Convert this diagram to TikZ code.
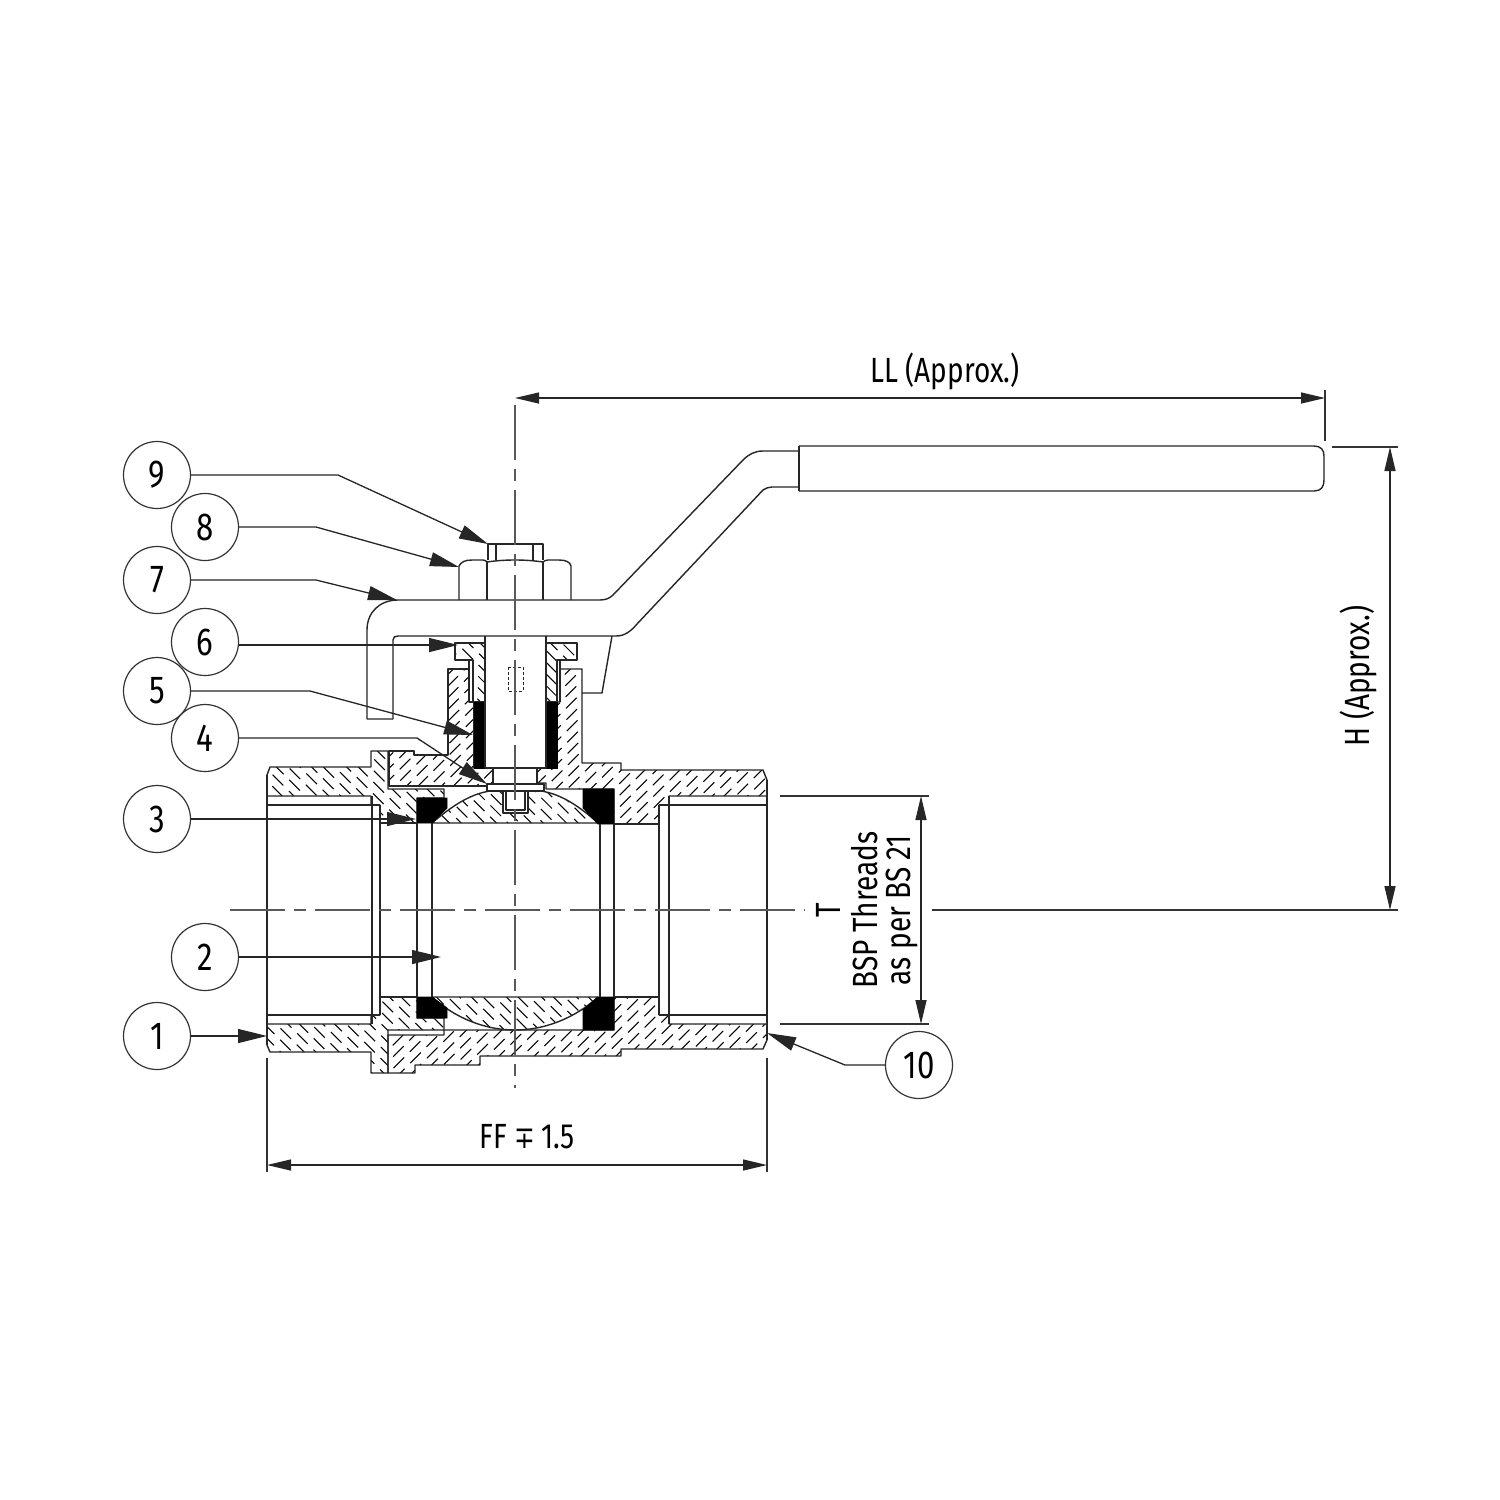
\documentclass[tikz,border=0pt]{standalone}
\usepackage{fontspec}
\setmainfont[FakeStretch=0.8]{Fira Sans}
\newfontfamily\symf[FakeStretch=0.8]{DejaVu Sans}
\usetikzlibrary{arrows.meta}
\tikzset{
  outl/.style={line width=1.4pt,line join=round,draw=black!85},
  thin line/.style={line width=1.3pt,draw=black!80},
  centre line/.style={line width=1.8pt,draw=black!65,dash pattern=on 55pt off 9pt on 12pt off 9pt},
  seat/.style={fill=black,draw=black,line width=.8pt},
  callout/.style={circle,draw=black!80,line width=1.2pt,minimum size=67pt,inner sep=0pt,fill=white,font=\fontsize{39}{42}\selectfont},
  leader/.style={line width=1.3pt,draw=black!85,-{Triangle[length=29pt,width=14pt]}},
  dimline/.style={line width=1.3pt,draw=black!85,{Triangle[length=24pt,width=11pt]}-{Triangle[length=24pt,width=11pt]}},
  dimtext/.style={font=\fontsize{35}{38}\selectfont,inner sep=0pt},
  hatchline/.style={line width=1.05pt,draw=black,dash pattern=on 15pt off 8pt}
}
\newcommand{\hatchfwd}[1]{%
  \begin{scope}
    \clip #1;
    \foreach \c in {900,911.7,...,2000}{
      \draw[hatchline,dash phase={mod(\c*0.6,23)}] (\c-100,100) -- (\c-1200,1200);
    }
  \end{scope}
  \draw[outl] #1;}
\newcommand{\hatchbck}[1]{%
  \begin{scope}
    \clip #1;
    \foreach \c in {-900,-888.3,...,200}{
      \draw[hatchline,dash phase={mod(abs(\c)*0.6,23)}] (\c+500,500) -- (\c+1200,1200);
    }
  \end{scope}
  \draw[outl] #1;}
\begin{document}
\begin{tikzpicture}[x=1pt,y=-1pt]
\useasboundingbox (0,0) rectangle (1500,1500);
\fill[white] (0,0) rectangle (1500,1500);

% --- left end piece (hatched "\")
\hatchbck{(270,767) -- (371,767) -- (371,751) -- (388,751) -- (388,789) -- (444,789) -- (444,798) -- (417,798) -- (417,823) -- (380,823) -- (380,805) -- (371,805) -- (371,796) -- (267,796) -- (267,775) -- cycle}
\hatchbck{(380,997) -- (417,997) -- (417,1018) -- (444,1018) -- (444,1030) -- (388,1030) -- (388,1073) -- (371,1073) -- (371,1052) -- (270,1052) -- (267,1045) -- (267,1024) -- (371,1024) -- (371,1015) -- (380,1015) -- cycle}

% --- main body (hatched "/")
\hatchfwd{(389,751) -- (414,751) -- (414,755) -- (448,755) -- (448,669) -- (469,669) -- (469,702) -- (474,702) -- (474,768) -- (493,768) -- (493,784) -- (487,784) -- (487,786) -- (389,786) -- cycle}
\hatchfwd{(557,702) -- (560,702) -- (560,669) -- (582,669) -- (582,763) -- (621,763) -- (621,770) -- (763,770) -- (767,780) -- (767,796) -- (669,796) -- (669,805) -- (659,805) -- (659,824) -- (614,824) -- (614,789) -- (546,789) -- (546,783) -- (537,783) -- (537,768) -- (557,768) -- cycle}
\hatchfwd{(388,1035) -- (444,1035) -- (444,1030) -- (614,1030) -- (614,997) -- (659,997) -- (659,1015) -- (669,1015) -- (669,1024) -- (767,1024) -- (767,1040) -- (763,1049) -- (621,1049) -- (621,1056) -- (480,1056) -- (480,1065) -- (415,1065) -- (415,1073) -- (388,1073) -- cycle}

% --- ball (hatched "\")
\hatchbck{(432,823) .. controls (452,806) and (470,794) .. (490,791) -- (541,791) .. controls (561,794) and (579,806) .. (598,823) -- cycle}
\hatchbck{(432,997) .. controls (455,1018) and (485,1030) .. (515,1030) .. controls (545,1030) and (575,1018) .. (598,997) -- cycle}
\draw[outl,fill=white] (503,791) -- (503,813) -- (528,813) -- (528,791);
\draw[outl] (506,791) -- (506,810) -- (525,810) -- (525,791);

% --- gland (hatched "\")
\hatchbck{(455,643) -- (485,643) -- (485,702) -- (473,702) -- (473,660) -- (455,660) -- cycle}
\hatchbck{(546,643) -- (577,643) -- (577,660) -- (557,660) -- (557,702) -- (546,702) -- cycle}
\draw[outl] (469,660) -- (469,702) (473,669) -- (473,702) (560,660) -- (560,702);

% --- packing and seats (black)
\fill[seat] (474,702) rectangle (485,768);
\fill[seat] (546,702) rectangle (557,768);
\fill[seat] (417,798) -- (447,798) -- (447,808) -- (432,823) -- (417,823) -- cycle;
\fill[seat] (417,997) -- (432,997) -- (447,1008) -- (447,1018) -- (417,1018) -- cycle;
\fill[seat] (583,789) -- (614,789) -- (614,824) -- (598,824) -- (583,808) -- cycle;
\fill[seat] (598,997) -- (614,997) -- (614,1030) -- (583,1030) -- (583,1010) -- cycle;

% --- bores and threads
\draw[outl] (267,775) -- (267,1045);
\draw[outl] (767,780) -- (767,1040);
\draw[outl] (267,805) -- (380,805) (267,1015) -- (380,1015);
\draw[outl] (372,796) -- (372,1024) (380,805) -- (380,1015);
\draw[outl] (669,796) -- (669,1024) (659,805) -- (659,1015);
\draw[outl] (767,805) -- (659,805) (767,1015) -- (659,1015);
\draw[outl] (417,823) -- (417,997) (432,823) -- (432,997);
\draw[outl] (600,824) -- (600,997) (614,824) -- (614,997);
\draw[outl] (380,823) -- (417,823) (380,997) -- (417,997);
\draw[outl] (614,824) -- (659,824) (614,997) -- (659,997);

% --- stem
\draw[outl,fill=white] (485,636) -- (485,768) -- (546,768) -- (546,636);
\draw[outl,fill=white] (493,768) rectangle (537,784);
\draw[outl,fill=white] (487,784) rectangle (544,791);
\draw[outl,densely dashed,line width=1pt] (508,667) rectangle (523,691);

% --- nut
\draw[outl,fill=white] (488,560) -- (488,544) -- (543,544) -- (543,560);
\draw[outl] (496,544) -- (496,560) (533,544) -- (533,560);
\draw[outl,fill=white] (459,600) -- (459,566) .. controls (461,562) and (465,560) .. (472,560) -- (483,560) .. controls (485,560) and (486,561) .. (487,562) .. controls (497,560.5) and (506,560) .. (515,560) .. controls (524,560) and (533,560.5) .. (543,562) .. controls (544,561) and (546,560) .. (548,560) -- (559,560) .. controls (566,560) and (570,562) .. (571,566) -- (571,600);
\draw[outl] (487,562) -- (487,600) (543,562) -- (543,600);

% --- lever
\draw[outl] (398,600) -- (600,600) .. controls (606,600) and (610,598) .. (613,595) -- (743,460) .. controls (749,454) and (755,451) .. (763,451) -- (799,451);
\draw[outl] (398,600) .. controls (380,600) and (367,612) .. (367,630) -- (367,719) -- (393,719) -- (393,640) .. controls (393,637) and (395,636) .. (398,636) -- (612,636) -- (616,636) .. controls (625,636) and (631,631) .. (637,624) -- (763,490) .. controls (766,488) and (769,487) .. (772,487) -- (799,487);
\draw[outl] (612,636) -- (602,693) -- (582,693);
\draw[outl] (799,446) -- (799,491);
\draw[outl] (799,446) -- (1314,446) .. controls (1321,446) and (1324,450) .. (1324,456) -- (1324,480) .. controls (1324,487) and (1321,491) .. (1314,491) -- (799,491);

% --- centre lines
\coordinate (vtop) at (515,405);
\coordinate (vbot) at (515,1088);
\coordinate (hleft) at (230,910);
\coordinate (hright) at (805,910);
\draw[centre line] (vtop) -- (vbot);
\draw[centre line] (hleft) -- (hright);

% --- callouts
\node[callout] (n9) at (157,475) {9};
\node[callout] (n8) at (205,527) {8};
\node[callout] (n7) at (157,580) {7};
\node[callout] (n6) at (205,642) {6};
\node[callout] (n5) at (157,691) {5};
\node[callout] (n4) at (205,738) {4};
\node[callout] (n3) at (157,819) {3};
\node[callout] (n2) at (205,957) {2};
\node[callout] (n1) at (157,1036) {1};
\node[callout] (n10) at (919,1065) {10};
\coordinate (t9) at (488,544);
\coordinate (t8) at (459,567);
\coordinate (t7) at (397,600);
\coordinate (t6) at (458,645);
\coordinate (t5) at (473,735);
\coordinate (t4) at (487,784);
\coordinate (t3) at (416,819);
\coordinate (t2) at (441,957);
\coordinate (t1) at (267,1036);
\coordinate (t10) at (767,1033);
\draw[leader] (n9.east) -- (338,475) -- (t9);
\draw[leader] (n8.east) -- (316,527) -- (t8);
\draw[leader] (n7.east) -- (316,580) -- (t7);
\draw[leader] (n6) ++(33.5,3) -- (t6);
\draw[leader] (n5) ++(33.5,0) -- (310,691) -- (t5);
\draw[leader] (n4.east) -- (417,738) -- (t4);
\draw[leader] (n3.east) -- (t3);
\draw[leader] (n2.east) -- (t2);
\draw[leader] (n1.east) -- (t1);
\draw[leader] (n10.west) -- (845,1065) -- (t10);

% --- dimensions
\coordinate (llL) at (515,398); \coordinate (llR) at (1325,398);
\coordinate (hT) at (1390,447); \coordinate (hB) at (1390,910);
\coordinate (tT) at (921,796); \coordinate (tB) at (921,1024);
\coordinate (ffL) at (267,1165); \coordinate (ffR) at (767,1165);
\draw[dimline] (llL) -- (llR);
\draw[dimline] (hT) -- (hB);
\draw[dimline] (tT) -- (tB);
\draw[dimline] (ffL) -- (ffR);
\draw[thin line] (1325,390) -- (1325,441);
\draw[thin line] (1332,447) -- (1398,447);
\draw[thin line] (932,910) -- (1398,910);
\draw[thin line] (780,796) -- (929,796);
\draw[thin line] (780,1024) -- (929,1024);
\draw[thin line] (267,1058) -- (267,1172);
\draw[thin line] (767,1058) -- (767,1172);

\node[dimtext] (ll) at (945,371) {LL (Approx.)};
\node[dimtext,rotate=90] (h) at (1358,676) {H (Approx.)};
\node[dimtext,rotate=90] (tt) at (828,910) {T};
\node[dimtext,rotate=90] (bsp) at (865,910) {BSP Threads};
\node[dimtext,rotate=90] (bs) at (902,910) {as per BS 21};
\node[dimtext] (ff) at (527,1137) {FF\ {\symf\fontsize{31}{33}\selectfont ∓}\,1.5};
\end{tikzpicture}
\end{document}
